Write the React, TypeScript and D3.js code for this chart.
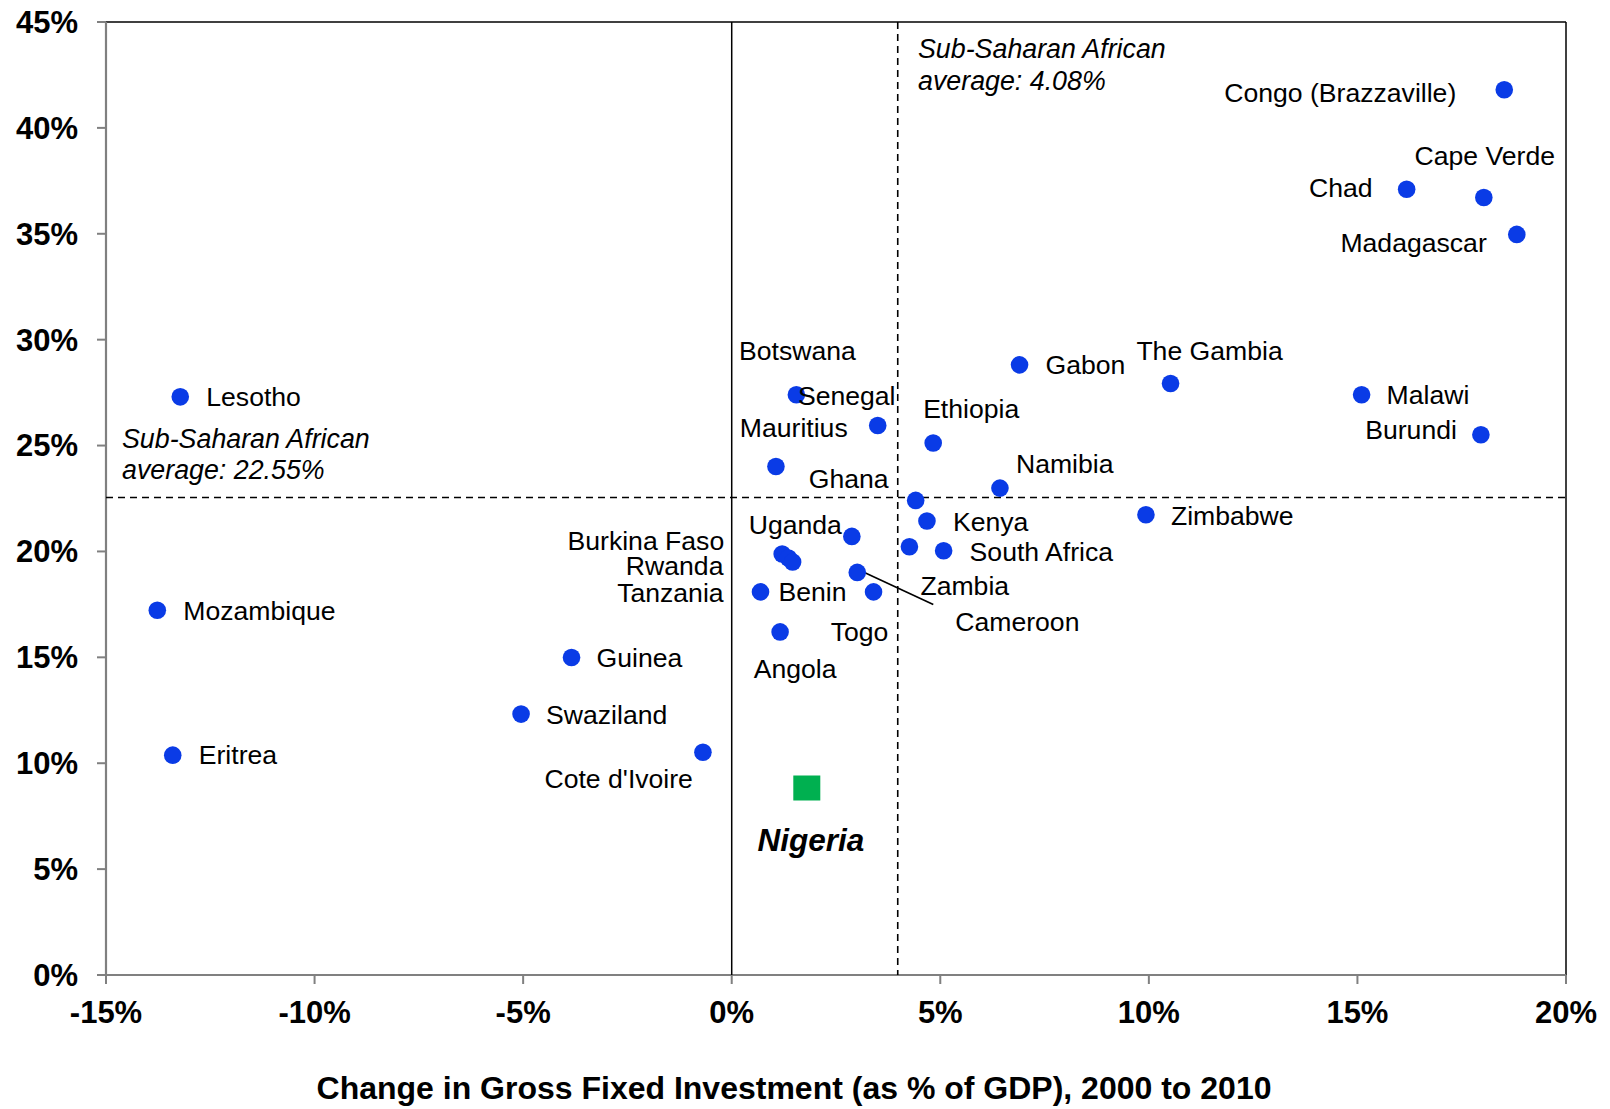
import React from 'react';
import * as d3 from 'd3';

// chart values
const countries = [
  'Congo (Brazzaville)', 'Chad', 'Cape Verde', 'Madagascar', 'Gabon', 'The Gambia',
  'Malawi', 'Burundi', 'Lesotho', 'Botswana', 'Mauritius', 'Senegal', 'Ethiopia',
  'Namibia', 'Ghana', 'Kenya', 'Zambia', 'South Africa', 'Uganda', 'Zimbabwe',
  'Burkina Faso', 'Rwanda', 'Tanzania', 'Cameroon', 'Benin', 'Togo', 'Angola',
  'Mozambique', 'Guinea', 'Swaziland', 'Eritrea', "Cote d'Ivoire",
];
const investChange = [
  18.52, 16.18, 18.03, 18.82, 6.9, 10.52,
  15.1, 17.96, -13.22, 1.55, 3.5, 1.06, 4.83,
  6.43, 4.41, 4.68, 4.26, 5.08, 2.88, 9.93,
  1.21, 1.36, 1.46, 3.01, 0.69, 3.4, 1.16,
  -13.77, -3.84, -5.05, -13.4, -0.69,
];
const gdpGrowth = [
  41.8, 37.1, 36.71, 34.97, 28.81, 27.93,
  27.4, 25.51, 27.3, 27.4, 25.95, 24.01, 25.12,
  22.99, 22.41, 21.44, 20.22, 20.03, 20.71, 21.73,
  19.88, 19.69, 19.5, 19.01, 18.09, 18.09, 16.2,
  17.22, 14.99, 12.32, 10.38, 10.52,
];
const highlightName = 'Nigeria';
const highlightX = 1.8;
const highlightY = 8.83;

// averages: label text and where the dashed lines sit in the picture
const avgXLabel = '4.08%';
const avgYLabel = '22.55%';
const avgXLine = 3.98;
const avgYLine = 22.55;

const xTicks = [-15, -10, -5, 0, 5, 10, 15, 20];
const yTicks = [0, 5, 10, 15, 20, 25, 30, 35, 40, 45];

// label placement relative to each dot (px), like hand-moved Excel labels
const labelPos: Record<string, [number, number, string]> = {
  'Congo (Brazzaville)': [-48, 3, 'end'],
  Chad: [-34, -2, 'end'],
  'Cape Verde': [1, -42, 'middle'],
  Madagascar: [-30, 8, 'end'],
  Gabon: [26, 0, 'start'],
  'The Gambia': [39, -33, 'middle'],
  Malawi: [25, 0, 'start'],
  Burundi: [-24, -5, 'end'],
  Lesotho: [26, 0, 'start'],
  Botswana: [1, -44, 'middle'],
  Mauritius: [-30, 2, 'end'],
  Senegal: [22, -71, 'start'],
  Ethiopia: [38, -34, 'middle'],
  Namibia: [16, -24, 'start'],
  Ghana: [-27, -22, 'end'],
  Kenya: [26, 1, 'start'],
  Zambia: [11, 39, 'start'],
  'South Africa': [26, 1, 'start'],
  Uganda: [-10, -12, 'end'],
  Zimbabwe: [25, 1, 'start'],
  'Burkina Faso': [-58, -13, 'end'],
  Rwanda: [-65, 8, 'end'],
  Tanzania: [-69, 31, 'end'],
  Cameroon: [98, 49, 'start'],
  Benin: [18, 0, 'start'],
  Togo: [-14, 40, 'middle'],
  Angola: [15, 37, 'middle'],
  Mozambique: [26, 0, 'start'],
  Guinea: [25, 0, 'start'],
  Swaziland: [25, 1, 'start'],
  Eritrea: [26, 0, 'start'],
  "Cote d'Ivoire": [-10, 26, 'end'],
};

const W = 1610;
const H = 1109;
const M = { left: 106, top: 22, right: 44, bottom: 134 };
const FONT = '"Liberation Sans", Arial, sans-serif';
const DOT = '#0A3BE6';

export default function App() {
  const x = d3.scaleLinear().domain([-15, 20]).range([M.left, W - M.right]);
  const y = d3.scaleLinear().domain([0, 45]).range([H - M.bottom, M.top]);
  const pct = (v: number) => `${v}%`;

  const x0 = x.range()[0], x1 = x.range()[1];
  const y0 = y.range()[0], y1 = y.range()[1];

  return (
    <svg
      width={W}
      height={H}
      style={{ position: 'absolute', left: 0, top: 0, background: '#fff' }}
      fontFamily={FONT}
    >
      {/* frame: top and right black, axes gray */}
      <line x1={x0} x2={x1} y1={y1} y2={y1} stroke="#000" strokeWidth={1.5} />
      <line x1={x1} x2={x1} y1={y1} y2={y0} stroke="#000" strokeWidth={1.5} />
      <line x1={x0} x2={x0} y1={y1} y2={y0} stroke="#808080" strokeWidth={2.2} />
      <line x1={x0} x2={x1} y1={y0} y2={y0} stroke="#808080" strokeWidth={2.2} />

      {/* zero line and averages */}
      <line x1={x(0)} x2={x(0)} y1={y1} y2={y0} stroke="#000" strokeWidth={1.5} />
      <line x1={x(avgXLine)} x2={x(avgXLine)} y1={y1} y2={y0} stroke="#000" strokeWidth={1.6} strokeDasharray="7,5" />
      <line x1={x0} x2={x1} y1={y(avgYLine)} y2={y(avgYLine)} stroke="#000" strokeWidth={1.6} strokeDasharray="7,5" />

      {/* y axis */}
      {yTicks.map((t) => (
        <g key={'y' + t}>
          <line x1={x0 - 9} x2={x0} y1={y(t)} y2={y(t)} stroke="#808080" strokeWidth={2} />
          <text x={78} y={y(t)} dy="0.35em" textAnchor="end" fontSize={31} fontWeight="bold">
            {pct(t)}
          </text>
        </g>
      ))}

      {/* x axis */}
      {xTicks.map((t) => (
        <g key={'x' + t}>
          <line x1={x(t)} x2={x(t)} y1={y0} y2={y0 + 9} stroke="#808080" strokeWidth={2} />
          <text x={x(t)} y={1023} textAnchor="middle" fontSize={31} fontWeight="bold">
            {pct(t)}
          </text>
        </g>
      ))}
      <text x={794} y={1099} textAnchor="middle" fontSize={32} fontWeight="bold">
        Change in Gross Fixed Investment (as % of GDP), 2000 to 2010
      </text>

      {/* average annotations */}
      <g fontSize={26.8} fontStyle="italic">
        <text x={918} y={58}>Sub-Saharan African</text>
        <text x={918} y={90}>average: {avgXLabel}</text>
        <text x={122} y={448}>Sub-Saharan African</text>
        <text x={122} y={479}>average: {avgYLabel}</text>
      </g>

      {/* Cameroon leader line */}
      {(() => {
        const i = countries.indexOf('Cameroon');
        const cx = x(investChange[i]), cy = y(gdpGrowth[i]);
        return <line x1={cx + 5} y1={cy - 1} x2={cx + 76} y2={cy + 32} stroke="#000" strokeWidth={1.6} />;
      })()}

      {/* points */}
      {countries.map((c, i) => (
        <circle key={c} cx={x(investChange[i])} cy={y(gdpGrowth[i])} r={8.8} fill={DOT} />
      ))}

      {/* labels */}
      {countries.map((c, i) => {
        const [dx, dy, anchor] = labelPos[c];
        return (
          <text
            key={'l' + c}
            x={x(investChange[i]) + dx}
            y={y(gdpGrowth[i]) + dy}
            dy="0.35em"
            textAnchor={anchor}
            fontSize={26.6}
          >
            {c}
          </text>
        );
      })}

      {/* highlighted country */}
      <rect
        x={x(highlightX) - 13.5}
        y={y(highlightY) - 12.5}
        width={27}
        height={25}
        fill="#00B050"
      />
      <text
        x={x(highlightX) + 4}
        y={y(highlightY) + 52}
        dy="0.35em"
        textAnchor="middle"
        fontSize={31.5}
        fontWeight="bold"
        fontStyle="italic"
      >
        {highlightName}
      </text>
    </svg>
  );
}
